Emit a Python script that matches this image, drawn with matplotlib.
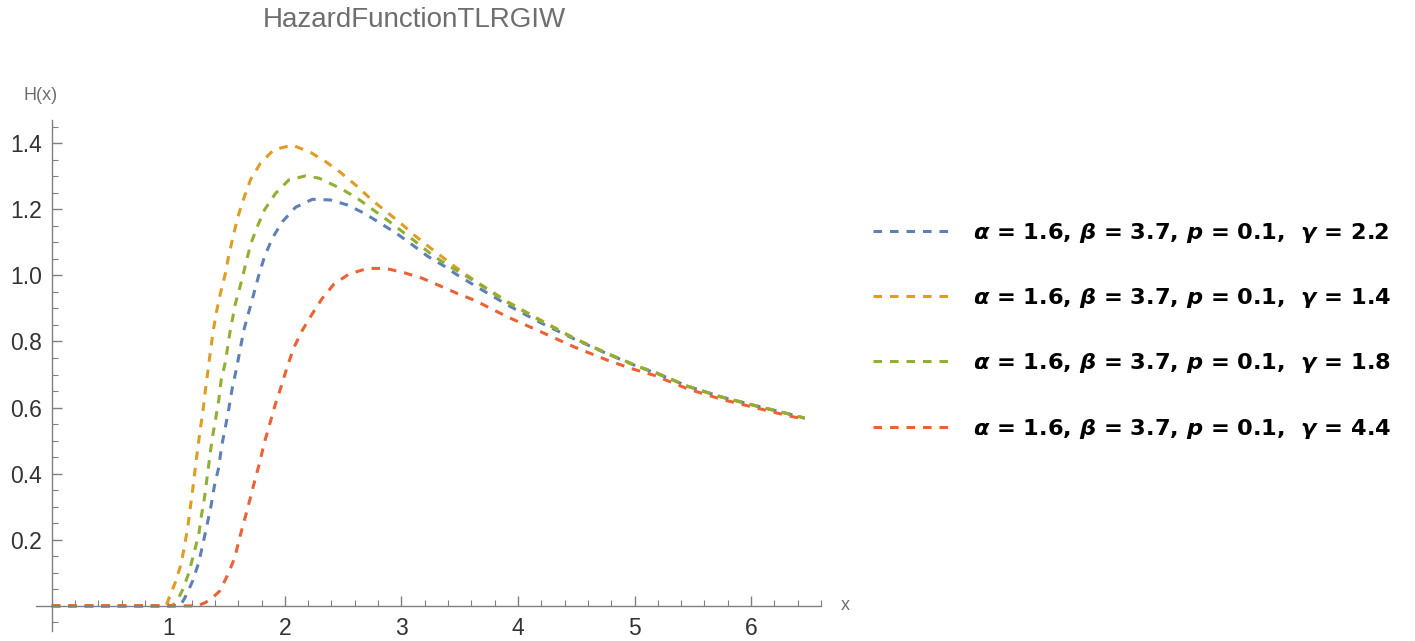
import matplotlib
matplotlib.use("Agg")
import matplotlib.pyplot as plt
import numpy as np

plt.rcParams['font.family'] = ['Liberation Sans', 'DejaVu Sans']
plt.rcParams['mathtext.fontset'] = 'custom'
plt.rcParams['mathtext.it'] = 'DejaVu Sans:italic:bold'
plt.rcParams['mathtext.rm'] = 'DejaVu Sans:bold'
plt.rcParams['mathtext.bf'] = 'DejaVu Sans:bold'

# Values
x_blue = [0, 1.10, 1.14, 1.17, 1.21, 1.261, 1.298, 1.333, 1.367, 1.396, 1.433, 1.456, 1.49,
          1.519, 1.548, 1.585, 1.648, 1.734, 1.777, 1.825, 1.892, 1.978, 2.092, 2.236, 2.393,
          2.536, 2.68, 2.823, 2.966, 3.095, 3.224, 3.367, 3.48, 3.625, 3.912, 4.198, 4.485,
          4.77, 5.04, 5.173, 5.46, 5.746, 6.033, 6.32, 6.46]
y_blue = [0, 0, 0.023, 0.045, 0.076, 0.131, 0.189, 0.246, 0.303, 0.364, 0.419, 0.480, 0.541,
          0.596, 0.657, 0.718, 0.834, 0.945, 1.001, 1.056, 1.112, 1.162, 1.206, 1.230, 1.228,
          1.213, 1.188, 1.157, 1.125, 1.092, 1.058, 1.028, 1.001, 0.970, 0.910, 0.856, 0.807,
          0.762, 0.722, 0.706, 0.664, 0.632, 0.606, 0.581, 0.568]

x_orange = [0, 0.98, 1.003, 1.06, 1.109, 1.14, 1.169, 1.189, 1.212, 1.232, 1.252, 1.275, 1.298,
            1.318, 1.34, 1.361, 1.384, 1.413, 1.447, 1.49, 1.519, 1.556, 1.596, 1.648, 1.705,
            1.79, 1.905, 2.064, 2.221, 2.35, 2.479, 2.608, 2.731, 2.851, 2.98, 3.109, 3.238,
            3.367, 3.48, 3.625, 3.912, 4.198, 4.485, 4.77, 5.04, 5.173, 5.46, 5.746, 6.033,
            6.32, 6.46]
y_orange = [0, 0, 0.02, 0.071, 0.126, 0.182, 0.243, 0.298, 0.359, 0.418, 0.475, 0.536, 0.591,
            0.652, 0.711, 0.768, 0.829, 0.889, 0.945, 1.006, 1.061, 1.117, 1.176, 1.233, 1.289,
            1.339, 1.380, 1.394, 1.372, 1.344, 1.311, 1.273, 1.233, 1.198, 1.162, 1.122, 1.086,
            1.051, 1.021, 0.985, 0.920, 0.864, 0.809, 0.763, 0.723, 0.707, 0.664, 0.632, 0.606,
            0.581, 0.568]

x_green = [0, 1.03, 1.07, 1.118, 1.175, 1.218, 1.261, 1.284, 1.312, 1.333, 1.355, 1.376, 1.404,
           1.433, 1.453, 1.49, 1.53, 1.576, 1.619, 1.662, 1.705, 1.757, 1.825, 1.92, 2.035,
           2.178, 2.293, 2.479, 2.622, 2.751, 2.88, 3.01, 3.139, 3.267, 3.41, 3.625, 3.912,
           4.198, 4.485, 4.77, 5.04, 5.173, 5.46, 5.746, 6.033, 6.32, 6.46]
y_green = [0, 0, 0.012, 0.045, 0.098, 0.157, 0.215, 0.273, 0.330, 0.389, 0.448, 0.505, 0.561,
           0.622, 0.682, 0.738, 0.83, 0.915, 0.970, 1.031, 1.092, 1.142, 1.198, 1.248, 1.289,
           1.301, 1.294, 1.263, 1.233, 1.200, 1.167, 1.132, 1.097, 1.061, 1.028, 0.983, 0.918,
           0.862, 0.809, 0.763, 0.723, 0.707, 0.664, 0.632, 0.606, 0.581, 0.568]

x_red = [0, 1.25, 1.318, 1.38, 1.441, 1.513, 1.570, 1.613, 1.656, 1.699, 1.742, 1.785, 1.825,
         1.871, 1.92, 1.972, 2.02, 2.077, 2.15, 2.236, 2.32, 2.42, 2.55, 2.71, 2.866, 3.023,
         3.18, 3.339, 3.48, 3.625, 3.912, 4.198, 4.485, 4.77, 4.973, 5.173, 5.46, 5.746,
         6.033, 6.32, 6.46]
y_red = [0, 0, 0.01, 0.025, 0.045, 0.096, 0.146, 0.207, 0.263, 0.320, 0.379, 0.435, 0.495,
         0.551, 0.612, 0.667, 0.723, 0.781, 0.834, 0.884, 0.930, 0.973, 1.004, 1.021, 1.021,
         1.008, 0.991, 0.967, 0.945, 0.925, 0.874, 0.829, 0.783, 0.743, 0.718, 0.697, 0.656,
         0.625, 0.600, 0.575, 0.565]

labels = [
    r"$\alpha$ = 1.6, $\beta$ = 3.7, $p$ = 0.1,  $\gamma$ = 2.2",
    r"$\alpha$ = 1.6, $\beta$ = 3.7, $p$ = 0.1,  $\gamma$ = 1.4",
    r"$\alpha$ = 1.6, $\beta$ = 3.7, $p$ = 0.1,  $\gamma$ = 1.8",
    r"$\alpha$ = 1.6, $\beta$ = 3.7, $p$ = 0.1,  $\gamma$ = 4.4",
]
colors = ["#5E81B5", "#E19C24", "#8FB032", "#EB6235"]

fig = plt.figure(figsize=(14.15, 6.41), dpi=100)
ax = fig.add_axes([36 / 1415, 1 - 631 / 641, (821 - 36) / 1415, (631 - 120) / 641])

series = [(x_blue, y_blue), (x_orange, y_orange), (x_green, y_green), (x_red, y_red)]
lines = []
for (xs, ys), c, lab in zip(series, colors, labels):
    ln, = ax.plot(xs, ys, color=c, lw=2.2, linestyle=(0, (2.8, 2.6)), label=lab,
                  dash_capstyle='butt')
    lines.append(ln)

ax.set_xlim(-0.135, 6.6)
ax.set_ylim(-0.076, 1.47)

# Mathematica-style axes crossing at the origin
for side in ["top", "right"]:
    ax.spines[side].set_visible(False)
ax.spines["left"].set_position(("data", 0))
ax.spines["bottom"].set_position(("data", 0))
for side in ["left", "bottom"]:
    ax.spines[side].set_color("#808080")
    ax.spines[side].set_linewidth(1.0)

ax.set_xticks([1, 2, 3, 4, 5, 6])
ax.set_xticks(np.arange(-0.0, 6.61, 0.2), minor=True)
ax.set_yticks([0.2, 0.4, 0.6, 0.8, 1.0, 1.2, 1.4])
ax.set_yticklabels(["0.2", "0.4", "0.6", "0.8", "1.0", "1.2", "1.4"])
ax.set_yticks(np.arange(-0.05, 1.46, 0.05), minor=True)
ax.tick_params(which="both", direction="in", color="#808080", labelcolor="#333333",
               labelsize=16.5)
ax.tick_params(which="major", length=7, width=1.0)
ax.tick_params(which="minor", length=4, width=0.8)
ax.tick_params(axis="x", pad=8)
ax.tick_params(axis="y", pad=7)

fig.text(414 / 1415, 1 - 20 / 641, "HazardFunctionTLRGIW", ha="center", va="center",
         fontsize=20, color="#6e6e6e")
fig.text(41 / 1415, 1 - 95 / 641, "H(x)", ha="center", va="center", fontsize=13,
         color="#6e6e6e")
fig.text(845 / 1415, 1 - 606 / 641, "x", ha="center", va="center", fontsize=13,
         color="#6e6e6e")

fig.legend(handles=lines, loc="upper left", bbox_to_anchor=(873 / 1415, 1 - 221 / 641),
           frameon=False, handlelength=3.6, handletextpad=0.85,
           labelspacing=1.83, borderpad=0, borderaxespad=0,
           prop={"family": "DejaVu Sans", "weight": "bold", "size": 16.2})

fig.savefig("out.png", dpi=100)
